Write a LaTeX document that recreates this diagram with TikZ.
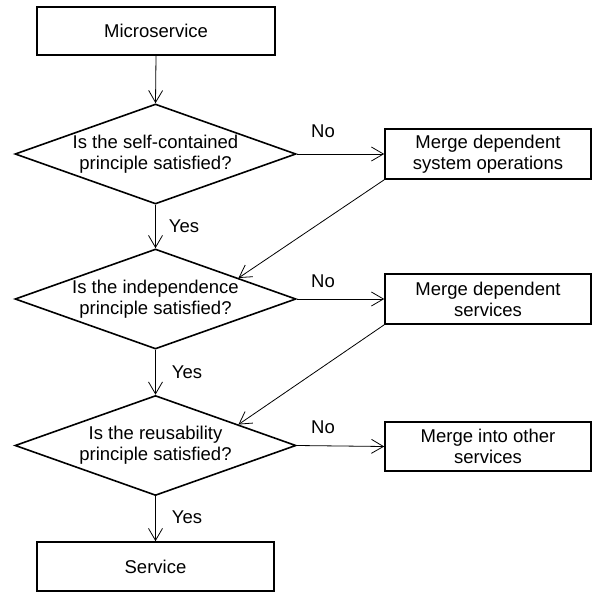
\documentclass[tikz,border=0pt]{standalone}
\usepackage{fontspec}
\setmainfont{Liberation Sans}
\usetikzlibrary{shapes.geometric,arrows.meta,calc}
\begin{document}
\begin{tikzpicture}[x=1pt,y=-1pt,
  txt/.style={font=\fontsize{18.5}{21}\selectfont},
  stepbox/.style={txt,draw,line width=1.6pt,rectangle,align=center,inner sep=0pt},
  decision/.style={txt,draw,line width=1.6pt,diamond,align=center,inner sep=0pt,
    minimum width=281pt,minimum height=100pt,shape aspect=2.81},
  flow/.style={line width=0.8pt,-{Straight Barb[length=12pt,width=14pt,line width=0.8pt]}},
  lbl/.style={txt,inner sep=0pt}
]
\useasboundingbox (0,0) rectangle (593,593);
\fill[white] (0,0) rectangle (593,593);

% main column
\node[stepbox,minimum width=238pt,minimum height=48pt] (ms) at (156,31) {Microservice};
\node[decision] (d1) at (155.5,154) {Is the self-contained\\principle satisfied?};
\node[decision] (d2) at (155.5,299) {Is the independence\\principle satisfied?};
\node[decision] (d3) at (155.5,445.5) {Is the reusability\\principle satisfied?};
\node[stepbox,minimum width=237pt,minimum height=49pt] (sv) at (155.5,566.5) {Service};

% merge actions
\node[stepbox,minimum width=206pt,minimum height=50pt] (m1) at (488,154) {Merge dependent\\system operations};
\node[stepbox,minimum width=206pt,minimum height=50pt] (m2) at (488,299) {Merge dependent\\services};
\node[stepbox,minimum width=206pt,minimum height=49pt] (m3) at (488,446.5) {Merge into other\\services};

% entry points on the upper right edges of the lower decisions
\coordinate (e2) at ($(d2.north)!0.587!(d2.east)$);
\coordinate (e3) at ($(d3.north)!0.587!(d3.east)$);

% connectors
\draw[flow] (ms.south) -- (d1.north);
\draw[flow] (d1.south) -- (d2.north);
\draw[flow] (d2.south) -- (d3.north);
\draw[flow] (d3.south) -- (sv.north);
\draw[flow] (d1.east) -- (m1.west);
\draw[flow] (d2.east) -- (m2.west);
\draw[flow] (d3.east) -- (m3.west);
\draw[flow] (m1.south west) -- (e2);
\draw[flow] (m2.south west) -- (e3);

% branch labels
\node[lbl] (n1) at (323,131) {No};
\node[lbl] (n2) at (323,281) {No};
\node[lbl] (n3) at (323,427) {No};
\node[lbl] (y1) at (184,226) {Yes};
\node[lbl] (y2) at (187,372) {Yes};
\node[lbl] (y3) at (187,517) {Yes};
\end{tikzpicture}
\end{document}
